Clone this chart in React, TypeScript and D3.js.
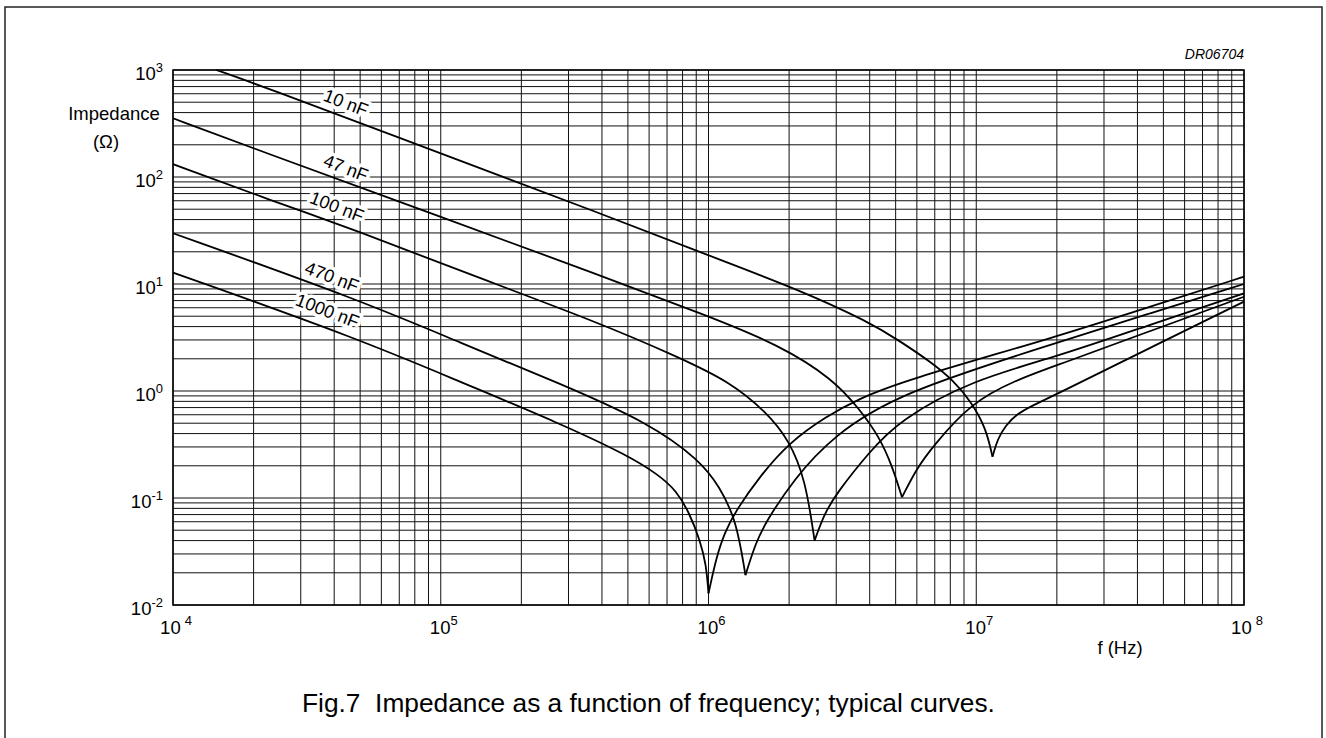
import React from "react";
import * as d3 from "d3";

const W = 1326;
const H = 738;
const plot = { left: 173, right: 1244, top: 70, bottom: 605 };
const font = "Arial, 'Liberation Sans', sans-serif";

// impedance curves: [frequency Hz, impedance Ohm]
const seriesNames = ["10 nF", "47 nF", "100 nF", "470 nF", "1000 nF"];

const c10: [number, number][] = [
  [1.45e4, 1000], [1.94e4, 778], [1.08e5, 155], [3.92e5, 46], [1e6, 18.5],
  [2.19e6, 8.8], [3.99e6, 4.4], [5.16e6, 2.95], [6.87e6, 1.82], [8.16e6, 1.27],
  [9.56e6, 0.8], [1.087e7, 0.45], [1.15e7, 0.243], [1.2e7, 0.355], [1.29e7, 0.479],
  [1.41e7, 0.603], [1.62e7, 0.733], [2.0e7, 0.933], [4.43e7, 2.51], [1e8, 6.84],
];
const c47: [number, number][] = [
  [1e4, 354], [1.94e4, 190], [1.08e5, 39.6], [3.92e5, 12.1], [1e6, 5.0],
  [1.84e6, 2.69], [2.91e6, 1.3], [3.66e6, 0.68], [4.34e6, 0.374], [4.85e6, 0.2],
  [5.28e6, 0.1016], [6.0e6, 0.19], [6.86e6, 0.3], [9.57e6, 0.78], [1.41e7, 1.27],
  [1.99e7, 1.73], [4.43e7, 3.61], [1e8, 7.6],
];
const c100: [number, number][] = [
  [1e4, 132], [2.3e4, 61], [4.99e4, 30.8], [1.18e5, 13.3], [3.92e5, 4.33],
  [7.8e5, 2.05], [1.2e6, 1.22], [1.64e6, 0.64], [2.0e6, 0.348], [2.3e6, 0.15],
  [2.49e6, 0.04], [2.7e6, 0.07], [3.0e6, 0.11], [3.99e6, 0.27], [5.16e6, 0.535],
  [9.68e6, 1.27], [1.99e7, 2.08], [4.43e7, 4.14], [1e8, 8.19],
];
const c470: [number, number][] = [
  [1e4, 29.8], [4.99e4, 7.08], [1.18e5, 2.83], [2.78e5, 1.18], [6.03e5, 0.5],
  [9.26e5, 0.226], [1.1e6, 0.128], [1.27e6, 0.0623], [1.374e6, 0.019],
  [1.5e6, 0.038], [1.64e6, 0.06], [2.07e6, 0.147], [2.91e6, 0.38], [5.16e6, 0.964],
  [1.99e7, 2.81], [4.43e7, 5.3], [1e8, 10],
];
const c1000: [number, number][] = [
  [1e4, 12.8], [4.99e4, 3.04], [1.18e5, 1.22], [2.78e5, 0.499], [5.0e5, 0.25],
  [6.5e5, 0.165], [7.57e5, 0.118], [8.5e5, 0.072], [9.3e5, 0.04], [9.8e5, 0.024],
  [1e6, 0.01285], [1.07e6, 0.028], [1.15e6, 0.048], [1.27e6, 0.0773], [1.55e6, 0.158],
  [2.0e6, 0.33], [2.75e6, 0.58], [3.66e6, 0.85], [5.31e6, 1.24], [1.99e7, 3.2],
  [4.43e7, 6.1], [1e8, 11.7],
];
const seriesData = [c10, c47, c100, c470, c1000];

// label centres on the curves
const labelF = [4.42e4, 4.42e4, 4.09e4, 3.92e4, 3.77e4];
const labelZ = [492, 121, 52.5, 11.6, 5.6];

const xExponents = [4, 5, 6, 7, 8];
const yExponents = [3, 2, 1, 0, -1, -2];

const x = d3.scaleLog().domain([1e4, 1e8]).range([plot.left, plot.right]);
const y = d3.scaleLog().domain([1e-2, 1e3]).range([plot.bottom, plot.top]);

const xGrid: number[] = [];
for (let e = 4; e < 8; e++) for (let m = 1; m < 10; m++) xGrid.push(m * 10 ** e);
xGrid.push(1e8);
const yGrid: number[] = [];
for (let e = -2; e < 3; e++) for (let m = 1; m < 10; m++) yGrid.push(m * 10 ** e);
yGrid.push(1e3);

const line = d3
  .line<[number, number]>()
  .x((d) => x(d[0]))
  .y((d) => y(d[1]))
  .curve(d3.curveBasis);

// split each curve at its resonance dip so the cusp stays sharp
const branches = (pts: [number, number][]) => {
  const i = d3.minIndex(pts, (d) => d[1]);
  return [pts.slice(0, i + 1), pts.slice(i)];
};

const App = () => {
  return (
    <svg
      width={W}
      height={H}
      style={{ position: "absolute", left: 0, top: 0, background: "#fff" }}
      fontFamily={font}
    >
      <rect x={5} y={7} width={1317} height={760} fill="none" stroke="#222" strokeWidth={1.5} />

      <g stroke="#111" strokeWidth={1} fill="none">
        {xGrid.map((f, i) => (
          <line key={"x" + i} x1={x(f)} x2={x(f)} y1={plot.top} y2={plot.bottom} />
        ))}
        {yGrid.map((v, i) => (
          <line key={"y" + i} x1={plot.left} x2={plot.right} y1={y(v)} y2={y(v)} />
        ))}
      </g>
      <rect
        x={plot.left}
        y={plot.top}
        width={plot.right - plot.left}
        height={plot.bottom - plot.top}
        fill="none"
        stroke="#000"
        strokeWidth={1.5}
      />

      {seriesNames.map((name, i) => {
        const cx = x(labelF[i]);
        const cy = y(labelZ[i]);
        return (
          <text
            key={name}
            x={cx}
            y={cy}
            transform={`rotate(21 ${cx} ${cy})`}
            textAnchor="middle"
            dominantBaseline="central"
            fontSize={18}
            fill="#000"
            stroke="#fff"
            strokeWidth={7}
            strokeLinejoin="round"
            paintOrder="stroke"
          >
            {name}
          </text>
        );
      })}

      <g fill="none" stroke="#000" strokeWidth={1.8} strokeLinejoin="round">
        {seriesData.map((pts, i) =>
          branches(pts).map((b, j) => <path key={i + "-" + j} d={line(b) || ""} />)
        )}
      </g>

      {yExponents.map((e) => (
        <text key={"ye" + e} x={163} y={y(10 ** e) + 10} textAnchor="end" fontSize={18.5}>
          10
          <tspan dy={-8} fontSize={13}>
            {e < 0 ? "-" + -e : e}
          </tspan>
        </text>
      ))}

      {xExponents.map((e, i) => (
        <text key={"xe" + e} x={x(10 ** e) + 3} y={634} textAnchor="middle" fontSize={18.5}>
          10
          <tspan dy={-9} dx={i === 0 || i === xExponents.length - 1 ? 4 : 0} fontSize={13}>
            {e}
          </tspan>
        </text>
      ))}

      <text x={114} y={120} textAnchor="middle" fontSize={18.5}>
        Impedance
      </text>
      <text x={106} y={148} textAnchor="middle" fontSize={18.5}>
        (Ω)
      </text>
      <text x={1120} y={654} textAnchor="middle" fontSize={18.5}>
        f (Hz)
      </text>
      <text x={1244} y={59} textAnchor="end" fontSize={14} fontStyle="italic">
        DR06704
      </text>
      <text x={302} y={712} fontSize={26.3} xmlSpace="preserve">
        Fig.7{"\u00a0\u00a0"}Impedance as a function of frequency; typical curves.
      </text>
    </svg>
  );
};

export default App;
